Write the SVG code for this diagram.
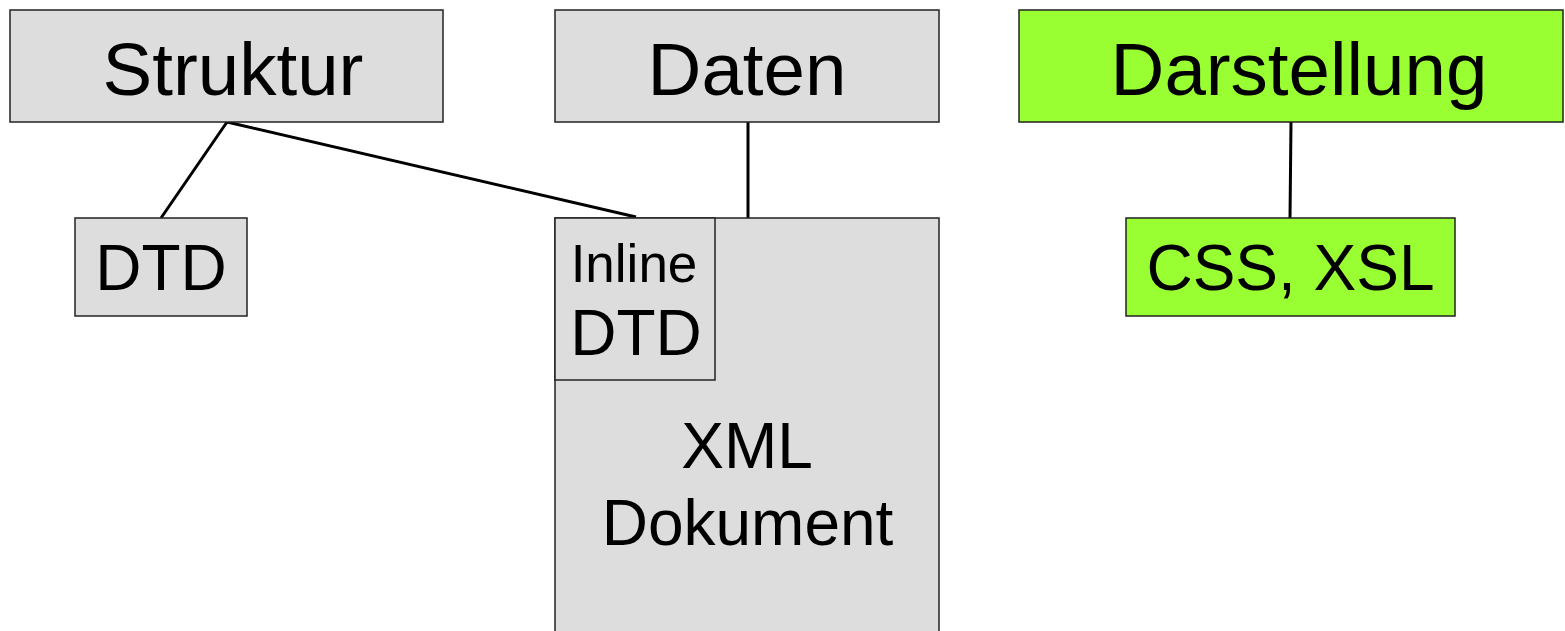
<svg xmlns="http://www.w3.org/2000/svg" width="1565" height="631" viewBox="0 0 1565 631">
<style>
.g{fill:#dddddd;stroke:#222;stroke-width:1.5}
.v{fill:#99ff33;stroke:#222;stroke-width:1.5}
text{font-family:"Liberation Sans",Arial,sans-serif;fill:#000;text-anchor:middle}
.big{font-size:74.5px}
.mid{font-size:64px}
.sm{font-size:53px}
.c{stroke:#000;stroke-width:3;fill:none}
</style>
<rect width="1565" height="631" fill="#fff"/>
<g id="connectors">
<line class="c" x1="227" y1="122" x2="161" y2="218"/>
<line class="c" x1="227" y1="122" x2="636" y2="217"/>
<line class="c" x1="748" y1="120" x2="748" y2="218"/>
<line class="c" x1="1291" y1="122" x2="1290" y2="218"/>
</g>
<g id="struktur"><rect class="g" x="10" y="10" width="433" height="112"/><text class="big" x="233" y="95">Struktur</text></g>
<g id="daten"><rect class="g" x="555" y="10" width="384" height="112"/><text class="big" x="747" y="95">Daten</text></g>
<g id="darstellung"><rect class="v" x="1019" y="10" width="544" height="112"/><text class="big" x="1299" y="95">Darstellung</text></g>
<g id="dtd"><rect class="g" x="75" y="218" width="172" height="98"/><text class="mid" x="161" y="290">DTD</text></g>
<g id="css-xsl"><rect class="v" x="1126" y="218" width="329" height="98"/><text class="mid" x="1290.5" y="290">CSS, XSL</text></g>
<g id="xml-dokument"><rect class="g" x="555" y="218" width="384" height="420"/><text class="mid" x="747" y="468">XML</text><text class="mid" x="747.5" y="545">Dokument</text></g>
<g id="inline-dtd"><rect class="g" x="555" y="218" width="160" height="162"/><text class="sm" x="634" y="282">Inline</text><text class="mid" x="636" y="355">DTD</text></g>
</svg>
